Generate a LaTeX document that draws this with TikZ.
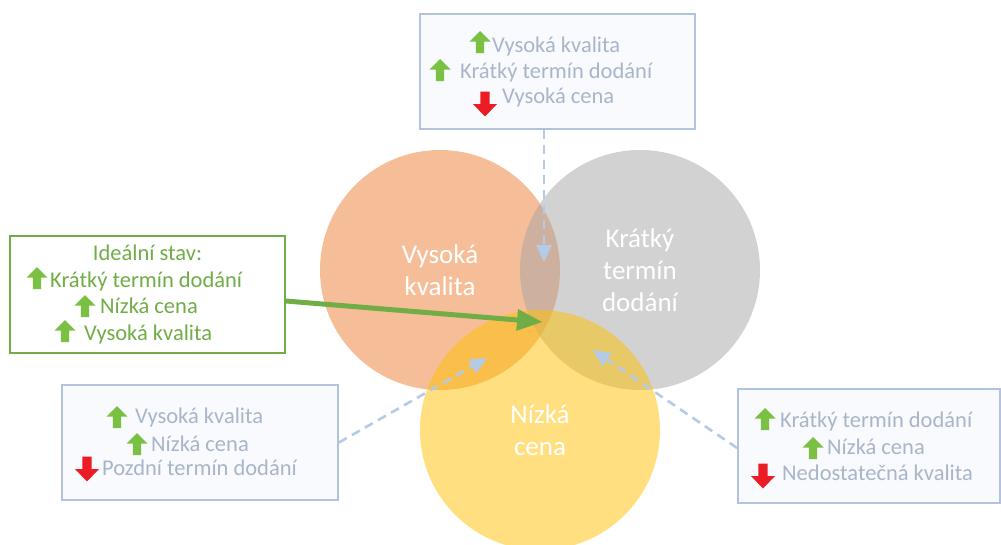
\documentclass[tikz,border=0pt]{standalone}
\usepackage{fontspec}
\setmainfont{Carlito}
\usetikzlibrary{arrows.meta}

\definecolor{qorange}{HTML}{ED7D31}
\definecolor{qgray}{HTML}{A5A5A5}
\definecolor{qyellow}{HTML}{FFC000}
\definecolor{boxline}{HTML}{B3C3DD}
\definecolor{boxfill}{HTML}{F9FAFD}
\definecolor{textgray}{HTML}{A9B6C9}
\definecolor{leafgreen}{HTML}{70AD47}
\definecolor{icongreen}{HTML}{7AC143}
\definecolor{iconred}{HTML}{EC1C24}
\definecolor{dashblue}{HTML}{B4CBE8}

\tikzset{
  setcircle/.style={circle, minimum size=240pt, inner sep=0pt, fill opacity=0.5,
    text opacity=1, text=white, align=center, font=\fontsize{27}{32}\selectfont},
  infobox/.style={rectangle, draw=boxline, line width=1.8pt, fill=boxfill, inner sep=0pt},
  idealbox/.style={rectangle, draw=leafgreen, line width=1.8pt, fill=white, inner sep=0pt},
  bt/.style={anchor=base west, inner sep=0pt, text=textgray, font=\fontsize{22.5}{27}\selectfont},
  gt/.style={anchor=base west, inner sep=0pt, text=leafgreen, font=\fontsize{22.5}{27}\selectfont},
  hint/.style={draw=dashblue, line width=2.6pt, dash pattern=on 9pt off 6pt,
    -{Triangle[length=17pt,width=16pt,fill=dashblue,line width=0pt,sep=0pt]}},
  upicon/.pic={\fill[icongreen] (-4.2pt,-11pt) -- (4.2pt,-11pt) -- (4.2pt,0.5pt)
    -- (10.5pt,0.5pt) -- (0pt,11pt) -- (-10.5pt,0.5pt) -- (-4.2pt,0.5pt) -- cycle;},
  downicon/.pic={\fill[iconred] (-4.6pt,12.5pt) -- (4.6pt,12.5pt) -- (4.6pt,0pt)
    -- (12pt,0pt) -- (0pt,-12.5pt) -- (-12pt,0pt) -- (-4.6pt,0pt) -- cycle;},
}

\begin{document}
\begin{tikzpicture}[x=1pt, y=-1pt]
\useasboundingbox (0,0) rectangle (1001,544);
\clip (0,0) rectangle (1001,544);

% the three overlapping goals
\node[setcircle, fill=qorange] (quality) at (440,270) {Vysoká\\kvalita};
\node[setcircle, fill=qgray]   (time)    at (640,270) {Krátký\\termín\\dodání};
\node[setcircle, fill=qyellow] (price)   at (540,430) {Nízká\\cena};

% target points inside the overlaps
\coordinate (qt) at (544,262);
\coordinate (qp) at (487,358);
\coordinate (tp) at (593,350);
\coordinate (all) at (542,322);

% trade-off boxes
\node[infobox, minimum width=275pt, minimum height=115pt] (topbox) at (557.5,71.5) {};
\node[infobox, minimum width=276pt, minimum height=115pt] (leftbox) at (200,442.5) {};
\node[infobox, minimum width=262pt, minimum height=114pt] (rightbox) at (869,446) {};
\node[idealbox, minimum width=275pt, minimum height=117pt] (ideal) at (147.5,294.5) {};

% connectors
\draw[hint] (qt |- topbox.south) -- (qt);
\draw[hint] (leftbox.east) -- (qp);
\draw[hint] ([yshift=-2pt]rightbox.west) -- (tp);
\draw[draw=leafgreen, line width=5pt,
  -{Triangle[length=25pt,width=22pt,fill=leafgreen,line width=0pt]}]
  ([yshift=-6.5pt]ideal.east) -- (all);

% top box: quality and time, high price
\node[bt] (ta) at (492,52) {Vysoká kvalita};
\node[bt] (tb) at (460,78) {Krátký termín dodání};
\node[bt] (tc) at (502,103) {Vysoká cena};
\pic at (480,42) {upicon};
\pic at (440,70) {upicon};
\pic at (485,104) {downicon};

% ideal state
\node[gt, anchor=base] (ga) at (147.5,260) {Ideální stav:};
\node[gt] (gb) at (50,287) {Krátký termín dodání};
\node[gt] (gc) at (100,313) {Nízká cena};
\node[gt] (gd) at (84,340) {Vysoká kvalita};
\pic at (37,278) {upicon};
\pic at (85,306) {upicon};
\pic at (65,331) {upicon};

% bottom left: quality and price, late delivery
\node[bt] (la) at (135,423) {Vysoká kvalita};
\node[bt] (lb) at (151,451) {Nízká cena};
\node[bt] (lc) at (102,475) {Pozdní termín dodání};
\pic at (117,417) {upicon};
\pic at (137,444) {upicon};
\pic at (87,469) {downicon};

% bottom right: time and price, poor quality
\node[bt] (ra) at (780,427) {Krátký termín dodání};
\node[bt] (rb) at (827,454) {Nízká cena};
\node[bt] (rc) at (782,480) {Nedostatečná kvalita};
\pic at (765,419) {upicon};
\pic at (813,448) {upicon};
\pic at (763,476) {downicon};
\end{tikzpicture}
\end{document}
